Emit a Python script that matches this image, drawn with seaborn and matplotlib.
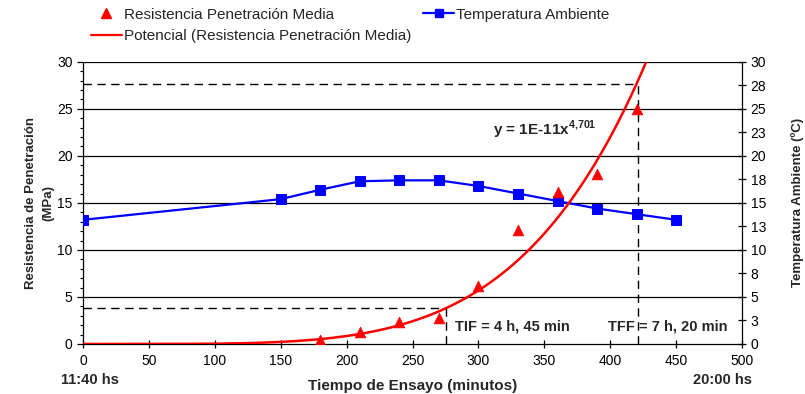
import numpy as np
import pandas as pd
import matplotlib
matplotlib.use("Agg")
import matplotlib.pyplot as plt
import matplotlib.ticker as mticker
import matplotlib.transforms as mtransforms
from matplotlib.lines import Line2D
import seaborn as sns

# ---- data ----
rp_time = [180, 210, 240, 270, 300, 330, 360, 390, 420]
rp_values = [0.4, 1.3, 2.3, 2.8, 6.2, 12.1, 16.2, 18.1, 25.0]

temp_time = [0, 150, 180, 210, 240, 270, 300, 330, 360, 390, 420, 450]
temp_values = [13.2, 15.4, 16.4, 17.3, 17.4, 17.4, 16.8, 16.0, 15.2, 14.4, 13.8, 13.2]

trend_coef = 1.29e-11
trend_exp = 4.701

tif_time, tif_value = 275, 3.85
tff_time, tff_value = 421, 27.6

right_ticks = [0, 2.5, 5, 7.5, 10, 12.5, 15, 17.5, 20, 22.5, 25, 27.5, 30]
right_labels = ["0", "3", "5", "8", "10", "13", "15", "18", "20", "23", "25", "28", "30"]

# ---- style ----
sns.set_style("ticks")
plt.rcParams['font.family'] = ['Liberation Sans', 'DejaVu Sans']
plt.rcParams['font.size'] = 10
plt.rcParams['mathtext.fontset'] = 'custom'
plt.rcParams['mathtext.rm'] = 'Liberation Sans'
plt.rcParams['mathtext.bf'] = 'Liberation Sans:bold'

fig = plt.figure(figsize=(8.05, 3.94), dpi=100)
ax = fig.add_axes([0.103, 0.127, 0.819, 0.716])

rp_df = pd.DataFrame({"t": rp_time, "v": rp_values})
temp_df = pd.DataFrame({"t": temp_time, "v": temp_values})
xs = np.linspace(0, 440, 600)
trend_df = pd.DataFrame({"t": xs, "v": trend_coef * xs ** trend_exp})

# grid lines
for g in [5, 10, 15, 20, 25, 30]:
    ax.axhline(g, color="black", lw=0.9, zorder=0)

# dashed guide lines
dash = (0, (6, 4))
ax.plot([0, tif_time], [tif_value, tif_value], color="black", lw=1, ls=dash, zorder=1)
ax.plot([tif_time, tif_time], [0, tif_value], color="black", lw=1, ls=dash, zorder=1)
ax.plot([0, tff_time], [tff_value, tff_value], color="black", lw=1, ls=dash, zorder=1)
ax.plot([tff_time, tff_time], [0, tff_value], color="black", lw=1, ls=dash, zorder=1)

sns.lineplot(data=temp_df, x="t", y="v", ax=ax, color="#0000ff", lw=1.6,
             marker="s", markersize=6.5, markeredgecolor="#0000ff", zorder=3)
sns.lineplot(data=trend_df, x="t", y="v", ax=ax, color="#ff0000", lw=1.8, zorder=4)
sns.scatterplot(data=rp_df, x="t", y="v", ax=ax, color="#ff0000", marker="^",
                s=60, edgecolor="#ff0000", linewidth=0.5, zorder=5)

ax.set_xlim(0, 500)
ax.set_ylim(0, 30)
ax.xaxis.set_major_locator(mticker.MultipleLocator(50))
ax.yaxis.set_major_locator(mticker.MultipleLocator(5))
ax.yaxis.set_minor_locator(mticker.MultipleLocator(1))
ax.tick_params(axis="x", which="major", direction="inout", length=6, width=0.9,
               colors="black", labelsize=10, pad=4)
ax.tick_params(axis="y", which="major", direction="out", length=4.5, width=0.9,
               colors="black", labelsize=10, pad=3)
ax.tick_params(axis="y", which="minor", direction="out", length=2.5, width=0.8, colors="black")
for s in ["left", "bottom"]:
    ax.spines[s].set_color("black")
    ax.spines[s].set_linewidth(0.9)
ax.spines["top"].set_visible(False)
ax.spines["right"].set_visible(False)

ax.set_xlabel("Tiempo de Ensayo (minutos)", fontweight="bold", fontsize=11, labelpad=8)
ax.set_ylabel("Resistencia de Penetración\n(MPa)", fontweight="bold", fontsize=9.5,
              labelpad=2, linespacing=1.55)

ax2 = ax.twinx()
ax2.set_ylim(0, 30)
ax2.set_yticks(right_ticks)
ax2.set_yticklabels(right_labels)
ax2.tick_params(axis="y", direction="inout", length=6, width=0.9, colors="black",
                labelsize=10, pad=3)
for s in ["top", "left", "bottom"]:
    ax2.spines[s].set_visible(False)
ax2.spines["right"].set_color("black")
ax2.spines["right"].set_linewidth(0.9)
ax2.set_ylabel("Temperatura Ambiente (ºC)", fontweight="bold", fontsize=9.5, labelpad=18)

# annotations
ax.text(311, 22.8, "y = 1E-11x$^{\\mathbf{4{,}701}}$", fontweight="bold", fontsize=11,
        va="center", ha="left")
ax.text(282, 1.9, "TIF = 4 h, 45 min", fontweight="bold", fontsize=10.5, va="center", ha="left")
ax.text(398, 1.9, "TFF = 7 h, 20 min", fontweight="bold", fontsize=10.5, va="center", ha="left")

trans = mtransforms.blended_transform_factory(ax.transData, fig.transFigure)
ax.text(5, 1 - 380 / 394, "11:40 hs", transform=trans, fontweight="bold", fontsize=10.5,
        ha="center", va="center")
ax.text(485, 1 - 380 / 394, "20:00 hs", transform=trans, fontweight="bold", fontsize=10.5,
        ha="center", va="center")

# legend
h_tri = Line2D([], [], ls="none", marker="^", color="#ff0000", markersize=7)
h_pot = Line2D([], [], color="#ff0000", lw=1.6)
h_tmp = Line2D([], [], color="#0000ff", lw=1.6, marker="s", markersize=6)
fig.legend([h_tri, h_pot, h_tmp],
           ["Resistencia Penetración Media", "Potencial (Resistencia Penetración Media)",
            "Temperatura Ambiente"],
           ncol=2, loc="upper left", bbox_to_anchor=(0.096, 1.015), frameon=False,
           fontsize=11, handlelength=2.0, handletextpad=0.15, columnspacing=0.8,
           labelspacing=0.5)

fig.savefig("out.png", dpi=100)
